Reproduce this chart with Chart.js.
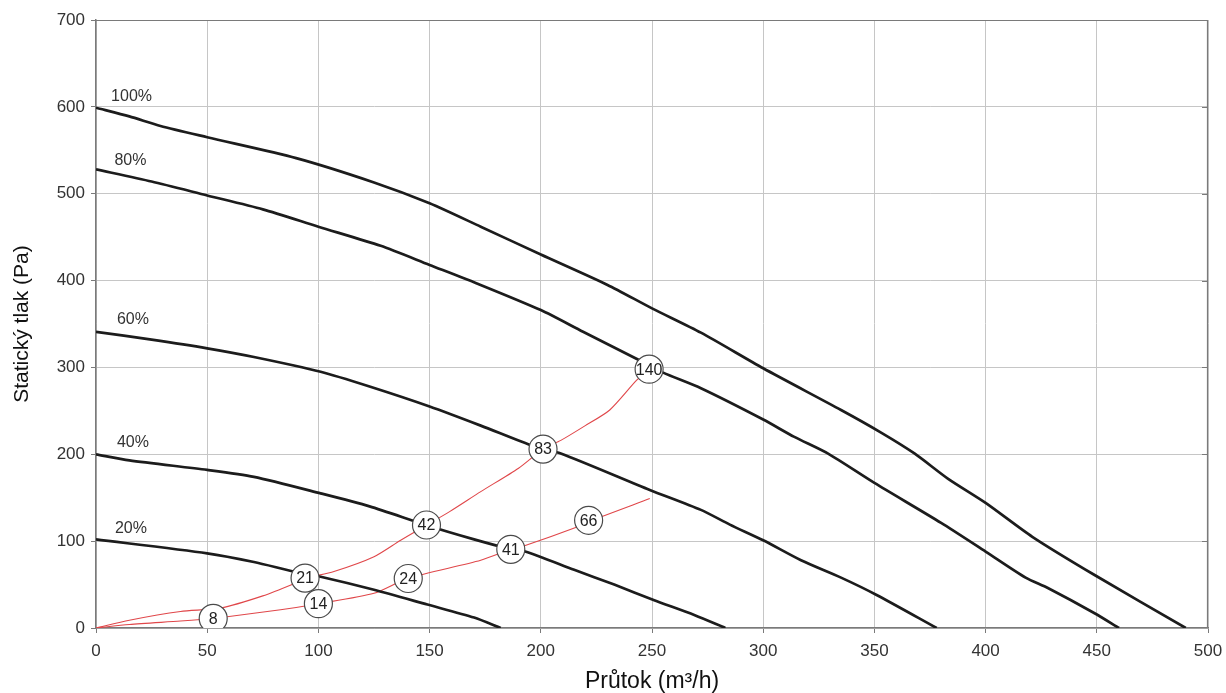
<!DOCTYPE html>
<html>
<head>
<meta charset="utf-8">
<script src="https://cdn.jsdelivr.net/npm/chart.js@4.4.1/dist/chart.umd.min.js"></script>
<style>
  html, body { margin: 0; padding: 0; background: #fff; }
  #wrap { width: 1226px; height: 693px; position: relative; }
</style>
</head>
<body>
<div id="wrap"><canvas id="chart"></canvas></div>
<script>
// fan curves (flow m3/h -> static pressure Pa)
const q100 = [0, 15, 29, 50, 90, 125, 150, 173, 200, 230, 250, 272, 300, 335, 353, 368, 383, 400, 421, 449, 490];
const p100 = [599, 589, 578, 565, 541, 513, 489, 462, 430, 395, 368, 340, 299, 251, 225, 201, 172, 144, 105, 61, 0];

const q80 = [0, 25, 50, 75, 100, 128, 150, 171, 200, 219, 243, 255, 272, 300, 314, 329, 350, 380, 400, 418, 428, 449, 460];
const p80 = [528, 514, 498, 482, 462, 440, 418, 397, 366, 341, 310, 294, 276, 240, 220, 201, 167, 121, 88, 58, 46, 17, 0];

const q60 = [0, 25, 50, 71, 101, 123, 150, 173, 197, 209, 249, 272, 285, 300, 317, 335, 351, 378];
const p60 = [341, 332, 322, 312, 295, 278, 255, 233, 209, 201, 159, 136, 119, 101, 78, 58, 38, 0];

const q40 = [0, 15, 50, 71, 101, 123, 149, 170, 186, 193, 215, 233, 251, 269, 283];
const p40 = [200, 193, 182, 174, 155, 140, 118, 102, 91, 88, 67, 50, 32, 15, 0];

const q20 = [0, 50, 71, 89, 101, 125, 149, 170, 182];
const p20 = [102, 86, 76, 65, 59, 44, 27, 12, 0];

// system curves (red)
const qSysA = [0, 15, 38, 56, 75, 89, 94, 107, 125, 137, 149, 159, 173, 190, 201, 209, 220, 231, 243, 248.7];
const pSysA = [0, 9, 19, 23, 37, 51, 57, 65, 82, 101, 119, 134, 157, 184, 206, 216, 233, 251, 285, 298];

const qSysB = [0, 15, 38, 53, 59, 83, 100, 125, 140, 173, 187, 193, 216, 222, 249];
const pSysB = [0, 4, 8, 11, 13, 21, 28, 40, 57, 78, 91, 95, 116, 123, 149];

// operating points, labelled with power (W)
const markerQ = [52.7, 100, 94, 140.4, 186.5, 148.6, 221.5, 201, 248.7];
const markerP = [11, 28, 57.5, 57, 90.6, 118.6, 124, 206, 298];
const markerText = ['8', '14', '21', '24', '41', '42', '66', '83', '140'];

// curve names and where they sit
const curveNames = ['100%', '80%', '60%', '40%', '20%'];
const nameQ = [16, 15.5, 16.6, 16.6, 15.7];
const nameP = [612, 538, 355, 213, 114];

const xTicksMax = 500;
const yTicksMax = 700;
const fontFamily = '"Liberation Sans", Arial, sans-serif';

function toPoints(xs, ys) {
  return xs.map((x, i) => ({x: x, y: ys[i]}));
}

const fanStyle = {borderColor: '#1c1c1c', borderWidth: 2.7, pointRadius: 0, tension: 0.25, fill: false, order: 2};
const sysStyle = {borderColor: '#e0474a', borderWidth: 1.1, pointRadius: 0, tension: 0.25, fill: false, order: 3};

const labelsPlugin = {
  id: 'labels',
  afterDraw(chart) {
    const ctx = chart.ctx;
    const xs = chart.scales.x;
    const ys = chart.scales.y;
    const area = chart.chartArea;

    // top and right frame with inner ticks
    ctx.save();
    ctx.strokeStyle = '#7a7a7a';
    ctx.lineWidth = 1.2;
    ctx.beginPath();
    ctx.moveTo(area.left, area.top + 0.5);
    ctx.lineTo(area.right, area.top + 0.5);
    ctx.moveTo(area.right - 0.5, area.top);
    ctx.lineTo(area.right - 0.5, area.bottom);
    for (let v = 100; v < yTicksMax; v += 100) {
      const py = Math.round(ys.getPixelForValue(v)) + 0.5;
      ctx.moveTo(area.right - 6, py);
      ctx.lineTo(area.right, py);
    }
    ctx.stroke();

    ctx.fillStyle = '#333';
    ctx.font = '16px ' + fontFamily;
    ctx.textAlign = 'center';
    ctx.textBaseline = 'middle';
    for (let i = 0; i < curveNames.length; i++) {
      ctx.fillText(curveNames[i], xs.getPixelForValue(nameQ[i]), ys.getPixelForValue(nameP[i]));
    }

    ctx.fillStyle = '#222';
    ctx.font = '16px ' + fontFamily;
    for (let i = 0; i < markerText.length; i++) {
      ctx.fillText(markerText[i], xs.getPixelForValue(markerQ[i]), ys.getPixelForValue(markerP[i]) + 1);
    }
    ctx.restore();
  }
};

const context = document.getElementById('chart').getContext('2d');

// eslint-disable-next-line no-undef
const myChart = new Chart(context, {
  type: 'line',
  data: {
    datasets: [
      Object.assign({label: '100%', data: toPoints(q100, p100)}, fanStyle),
      Object.assign({label: '80%', data: toPoints(q80, p80)}, fanStyle),
      Object.assign({label: '60%', data: toPoints(q60, p60)}, fanStyle),
      Object.assign({label: '40%', data: toPoints(q40, p40)}, fanStyle),
      Object.assign({label: '20%', data: toPoints(q20, p20)}, fanStyle),
      Object.assign({label: 'sysA', data: toPoints(qSysA, pSysA)}, sysStyle),
      Object.assign({label: 'sysB', data: toPoints(qSysB, pSysB)}, sysStyle),
      {
        label: 'points',
        type: 'scatter',
        data: toPoints(markerQ, markerP),
        pointRadius: 14,
        pointHoverRadius: 14,
        pointBackgroundColor: '#fff',
        pointBorderColor: '#4a4a4a',
        pointBorderWidth: 1.2,
        showLine: false,
        order: 0,
      },
    ],
  },
  options: {
    responsive: true,
    maintainAspectRatio: false,
    animation: false,
    events: [],
    layout: {padding: {top: 20, right: 18, left: 0, bottom: 0}},
    plugins: {
      legend: {display: false},
      tooltip: {enabled: false},
      title: {display: false},
    },
    scales: {
      x: {
        type: 'linear',
        min: 0,
        max: xTicksMax,
        afterFit: (scale) => {
          scale.height = 65;
          scale.paddingLeft = 0;
          scale.paddingRight = 0;
        },
        ticks: {
          stepSize: 50,
          color: '#333',
          padding: 8,
          maxRotation: 0,
          font: {family: fontFamily, size: 17},
        },
        grid: {color: '#c6c6c6', lineWidth: 1, tickLength: 5, tickColor: '#7a7a7a'},
        border: {color: '#7a7a7a', width: 1.5},
        title: {
          display: true,
          text: 'Průtok (m³/h)',
          color: '#111',
          padding: {top: 0, bottom: 0},
          font: {family: fontFamily, size: 23, lineHeight: 1},
        },
      },
      y: {
        type: 'linear',
        min: 0,
        max: yTicksMax,
        afterFit: (scale) => {
          scale.width = 96;
          scale.paddingTop = 0;
          scale.paddingBottom = 0;
        },
        ticks: {
          stepSize: 100,
          color: '#333',
          padding: 6,
          font: {family: fontFamily, size: 17},
        },
        grid: {color: '#c6c6c6', lineWidth: 1, tickLength: 5, tickColor: '#7a7a7a'},
        border: {color: '#7a7a7a', width: 1.5},
        title: {
          display: true,
          text: 'Statický tlak (Pa)',
          color: '#111',
          padding: {top: 10, bottom: 0},
          font: {family: fontFamily, size: 21},
        },
      },
    },
  },
  plugins: [labelsPlugin],
});
</script>
</body>
</html>
